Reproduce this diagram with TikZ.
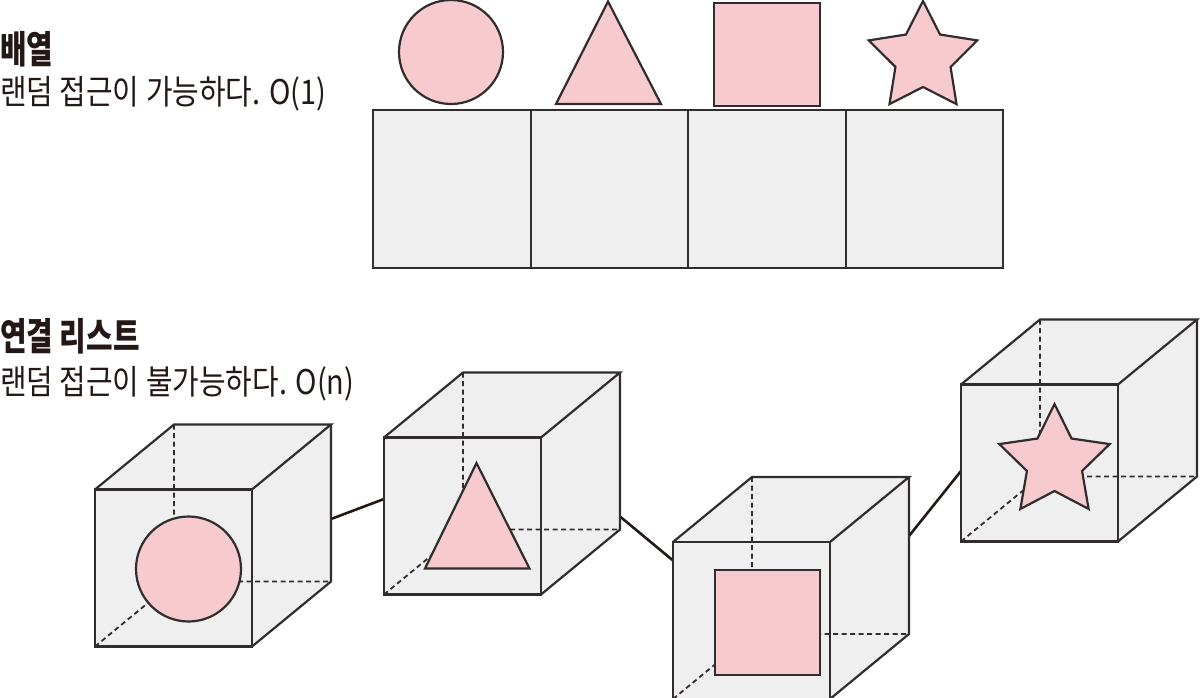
\documentclass[tikz,border=0pt]{standalone}
\usepackage{fontspec}
\newfontfamily\krtitle[FakeStretch=0.76]{Noto Sans CJK KR}
\newfontfamily\krbody[FakeStretch=0.85]{Noto Sans CJK KR}
\definecolor{linec}{RGB}{50,45,45}
\definecolor{linkc}{RGB}{35,24,21}
\definecolor{textc}{RGB}{35,24,21}
\definecolor{pinkc}{RGB}{246,202,206}
\definecolor{grayc}{RGB}{239,239,239}
\newcommand\mystar[4]{\draw[pinkshape,shift={(#1,#2)}] (-90:#3) -- (-54:#4) -- (-18:#3) -- (18:#4) -- (54:#3) -- (90:#4) -- (126:#3) -- (162:#4) -- (198:#3) -- (234:#4) -- cycle;}
\newcommand\mycubeback[3]{%
  \begin{scope}[shift={(#2,#3)}]
    \coordinate (#1-a) at (0,0);
    \coordinate (#1-b) at (157,0);
    \coordinate (#1-c) at (157,157);
    \coordinate (#1-d) at (0,157);
    \coordinate (#1-e) at (79,-65);
    \coordinate (#1-f) at (236,-65);
    \coordinate (#1-g) at (236,92);
    \coordinate (#1-h) at (79,92);
  \end{scope}
  \fill[grayc] (#1-a) -- (#1-e) -- (#1-f) -- (#1-g) -- (#1-c) -- (#1-d) -- cycle;
  \draw[hidden] (#1-e) -- (#1-h) -- (#1-g) (#1-d) -- (#1-h);}
\newcommand\mycubefront[1]{%
  \draw[edge] (#1-a) -- (#1-b) -- (#1-c) -- (#1-d) -- cycle;
  \draw[edge] (#1-a) -- (#1-e) -- (#1-f) -- (#1-b) (#1-f) -- (#1-g) -- (#1-c);}
\begin{document}
\begin{tikzpicture}[x=1pt,y=-1pt,
  edge/.style={draw=linec, line width=2.2pt, line join=miter},
  pinkshape/.style={fill=pinkc, draw=linec, line width=2.2pt, line join=miter},
  cellbox/.style={fill=grayc, draw=linec, line width=2.4pt, inner sep=0pt, minimum width=157.5pt, minimum height=158.5pt, anchor=north west},
  hidden/.style={draw=linec, line width=1.8pt, dash pattern=on 5pt off 3.5pt},
  link/.style={draw=linkc, line width=2.6pt},
  title/.style={anchor=base west, inner sep=0pt, font=\krtitle\bfseries\fontsize{38}{42}\selectfont, text=textc},
  body/.style={anchor=base west, inner sep=0pt, font=\krbody\fontsize{34}{38}\selectfont, text=textc}]
\useasboundingbox (0,0) rectangle (1200,697);

% texts
\node[title] (t1) at (0,63) {배열};
\node[body] (b1) at (0,104) {랜덤 접근이 가능하다. O(1)};
\node[title] (t2) at (0,350) {연결 리스트};
\node[body] (b2) at (0,394) {랜덤 접근이 불가능하다. O(n)};

% array
\node[cellbox] (cell1) at (372,108.5) {};
\node[cellbox] (cell2) at (529.5,108.5) {};
\node[cellbox] (cell3) at (687,108.5) {};
\node[cellbox] (cell4) at (844.5,108.5) {};

% shapes above the array
\node[pinkshape, circle, minimum size=104pt, inner sep=0pt] (acircle) at (451,52) {};
\coordinate (atri1) at (608,1.5);
\coordinate (atri2) at (556,104);
\coordinate (atri3) at (661,104);
\draw[pinkshape] (atri1) -- (atri2) -- (atri3) -- cycle;
\node[pinkshape, rectangle, minimum width=106pt, minimum height=103pt, inner sep=0pt, anchor=north west] (asquare) at (713,1.5) {};
\mystar{923}{58}{57}{29}

% connectors
\coordinate (l1a) at (331,519);
\coordinate (l1b) at (384,499);
\coordinate (l2a) at (620,516.5);
\coordinate (l2b) at (673,560.5);
\coordinate (l3a) at (909,536);
\coordinate (l3b) at (961,471);
\draw[link] (l1a) -- (l1b);
\draw[link] (l2a) -- (l2b);
\draw[link] (l3a) -- (l3b);

% cube 1 : circle
\mycubeback{k1}{95}{489.5}
\node[pinkshape, circle, minimum size=105pt, inner sep=0pt] (kcircle) at (188.5,569) {};
\mycubefront{k1}

% cube 2 : triangle
\mycubeback{k2}{384}{437.5}
\coordinate (ktri1) at (476.5,463);
\coordinate (ktri2) at (425,568.5);
\coordinate (ktri3) at (529.5,568.5);
\draw[pinkshape] (ktri1) -- (ktri2) -- (ktri3) -- cycle;
\mycubefront{k2}

% cube 3 : square
\mycubeback{k3}{673}{542}
\node[pinkshape, rectangle, minimum width=105pt, minimum height=105pt, inner sep=0pt, anchor=north west] (ksquare) at (713.5,568.5) {};
\mycubefront{k3}

% cube 4 : star
\mycubeback{k4}{961}{384.5}
\mystar{1054.5}{462}{58}{29}
\mycubefront{k4}
\end{tikzpicture}
\end{document}
